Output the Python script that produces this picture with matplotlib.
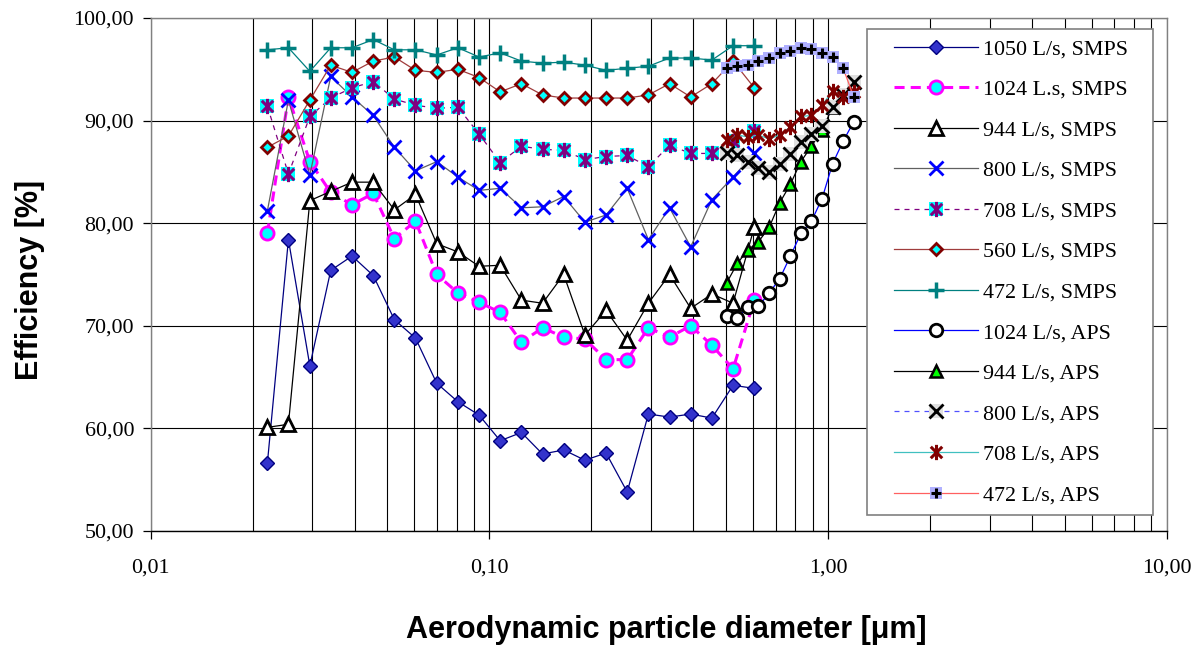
import matplotlib
matplotlib.use("Agg")
import matplotlib.pyplot as plt
from matplotlib.path import Path
from matplotlib.lines import Line2D
from matplotlib.legend_handler import HandlerLine2D
from matplotlib.ticker import LogLocator, FuncFormatter, NullFormatter, FixedLocator

# particle diameters [um]
d_smps = [0.0221, 0.0255, 0.0295, 0.0340, 0.0393, 0.0454, 0.0524, 0.0605,
          0.0699, 0.0807, 0.0932, 0.1076, 0.1243, 0.1435, 0.1657, 0.1914,
          0.2210, 0.2552, 0.2947, 0.3403, 0.3930, 0.4538, 0.5241, 0.6052]
d_aps = [0.502, 0.540, 0.580, 0.623, 0.670, 0.720, 0.774, 0.831, 0.893,
         0.960, 1.031, 1.108, 1.191]

# efficiency [%]
smps_1050 = [56.6, 78.4, 66.1, 75.4, 76.8, 74.9, 70.6, 68.8, 64.4, 62.6, 61.3, 58.8,
             59.6, 57.5, 57.9, 56.9, 57.6, 53.8, 61.4, 61.1, 61.4, 61.0, 64.2, 63.9]
smps_1024 = [79.0, 92.3, 86.0, 83.0, 81.8, 82.9, 78.5, 80.2, 75.0, 73.2, 72.3, 71.3,
             68.4, 69.8, 68.9, 68.7, 66.7, 66.7, 69.8, 68.9, 70.0, 68.1, 65.8, 72.5]
smps_944 = [60.1, 60.4, 82.2, 83.1, 84.0, 84.0, 81.3, 82.8, 78.0, 77.2, 75.8, 75.9,
            72.5, 72.2, 75.0, 69.1, 71.5, 68.6, 72.2, 75.0, 71.7, 73.1, 72.2, 79.6]
smps_800 = [81.2, 92.0, 84.7, 94.3, 92.3, 90.5, 87.4, 85.1, 86.0, 84.5, 83.2, 83.4,
            81.5, 81.6, 82.6, 80.1, 80.8, 83.4, 78.4, 81.5, 77.7, 82.3, 84.5, 86.8]
smps_708 = [91.4, 84.8, 90.4, 92.2, 93.2, 93.8, 92.1, 91.5, 91.2, 91.3, 88.7, 85.9,
            87.5, 87.2, 87.1, 86.2, 86.5, 86.6, 85.5, 87.6, 86.8, 86.8, 88.0, 89.0]
smps_560 = [87.4, 88.5, 92.0, 95.4, 94.7, 95.8, 96.2, 94.9, 94.7, 95.0, 94.2, 92.8,
            93.6, 92.5, 92.2, 92.2, 92.2, 92.2, 92.5, 93.6, 92.3, 93.6, 95.8, 93.2]
smps_472 = [96.9, 97.1, 94.8, 97.1, 97.1, 97.9, 96.9, 96.9, 96.4, 97.1, 96.2, 96.6,
            95.8, 95.6, 95.7, 95.4, 94.9, 95.1, 95.3, 96.1, 96.1, 95.9, 97.3, 97.3]

aps_1024 = [71.0, 70.8, 71.8, 71.9, 73.2, 74.6, 76.8, 79.0, 80.2, 82.4, 85.8, 88.0, 89.9]
aps_944 = [74.2, 76.1, 77.4, 78.2, 79.6, 82.0, 83.8, 86.0, 87.5, 89.1, 91.3]
aps_800 = [86.8, 86.6, 86.0, 85.4, 85.0, 85.8, 86.7, 87.9, 88.7, 89.5, 91.3, 92.5, 93.8]
aps_708 = [88.1, 88.6, 88.4, 88.6, 88.2, 88.6, 89.4, 90.4, 90.5, 91.5, 92.9, 92.3, 92.8]
aps_472 = [95.1, 95.3, 95.4, 95.8, 96.1, 96.6, 96.8, 97.1, 97.0, 96.6, 96.2, 95.1, 92.3]

labels = ["1050 L/s, SMPS", "1024 L.s, SMPS", "944 L/s, SMPS", "800 L/s, SMPS",
          "708 L/s, SMPS", "560 L/s, SMPS", "472 L/s, SMPS", "1024 L/s, APS",
          "944 L/s, APS", "800 L/s, APS", "708 L/s, APS", "472 L/s, APS"]

serif = ["Liberation Serif", "DejaVu Serif"]
sans = ["Liberation Sans", "DejaVu Sans"]

# excel-like asterisk (vertical bar + x)
ast = Path([(0, -1), (0, 1), (-0.75, -0.75), (0.75, 0.75), (-0.75, 0.75), (0.75, -0.75)],
           [Path.MOVETO, Path.LINETO] * 3)


class ShiftedLine(HandlerLine2D):
    # legend line starts a bit further from the frame, like excel
    shift = 12

    def create_artists(self, legend, orig_handle, xdescent, ydescent, width, height,
                       fontsize, trans):
        return super().create_artists(legend, orig_handle, xdescent - self.shift,
                                      ydescent, width - self.shift, height, fontsize, trans)


fig = plt.figure(figsize=(12.02, 6.5), dpi=100)
ax = fig.add_axes([0.1254, 0.1831, 0.8453, 0.7892])

lw = 0.9
h = []
l1, = ax.plot(d_smps, smps_1050, color="#000080", lw=lw, marker="D", ms=7.5,
              mfc="#3333cc", mec="#000080", mew=1.0)
h.append(l1)
l2, = ax.plot(d_smps, smps_1024, color="#ff00ff", lw=2.2, dashes=(3.3, 2.0), marker="o",
              ms=9.5, mfc="#00ffff", mec="#ff00ff", mew=2.0)
h.append(l2)
l3, = ax.plot(d_smps, smps_944, color="black", lw=lw, marker="^", ms=10.5,
              mfc="white", mec="black", mew=2.0)
h.append(l3)
l4, = ax.plot(d_smps, smps_800, color="#606060", lw=lw, marker="x", ms=10.5,
              mec="#0000ff", mew=2.0)
h.append(l4)
l5a, = ax.plot(d_smps, smps_708, color="#800080", lw=lw, dashes=(4, 4), marker="s",
               ms=10.5, mfc="#00ffff", mec="#00ffff", mew=0)
l5b, = ax.plot(d_smps, smps_708, ls="none", marker=ast, ms=11, mec="#800080",
               mfc="none", mew=2.2)
h.append((l5a, l5b))
l6, = ax.plot(d_smps, smps_560, color="#a03c3c", lw=lw, marker="D", ms=6.5,
              mfc="#00ffff", mec="#800000", mew=2.0)
h.append(l6)
l7, = ax.plot(d_smps, smps_472, color="#008080", lw=lw, marker="+", ms=11.5,
              mec="#008080", mew=2.5)
h.append(l7)

l8, = ax.plot(d_aps, aps_1024, color="#0000ff", lw=lw, marker="o", ms=9,
              mfc="white", mec="black", mew=2.0)
h.append(l8)
l9, = ax.plot(d_aps[:len(aps_944)], aps_944, color="black", lw=lw, marker="^", ms=9,
              mfc="#00ff00", mec="black", mew=1.8)
h.append(l9)
l10a, = ax.plot(d_aps, aps_800, color="#5050ff", lw=lw, dashes=(4, 4), marker="s",
                ms=10, mfc="#e0e0e0", mec="#e0e0e0", mew=0)
l10b, = ax.plot(d_aps, aps_800, ls="none", marker="x", ms=10, mec="black", mew=2.0)
h.append((l10a, l10b))
l11, = ax.plot(d_aps, aps_708, color="#40c0c0", lw=lw, marker=ast, ms=11,
               mec="#800000", mfc="none", mew=2.2)
h.append(l11)
l12a, = ax.plot(d_aps, aps_472, color="#ff6060", lw=lw, marker="s", ms=8,
                mfc="#b0b0ff", mec="#b0b0ff", mew=0)
l12b, = ax.plot(d_aps, aps_472, ls="none", marker="+", ms=7.5, mec="black", mew=2.2)
h.append((l12a, l12b))

# axes
ax.set_xscale("log")
ax.set_xlim(0.01, 10)
ax.set_ylim(50, 100)
ax.xaxis.set_major_locator(FixedLocator([0.01, 0.1, 1, 10]))
ax.xaxis.set_minor_locator(LogLocator(base=10, subs=range(2, 10)))
ax.xaxis.set_minor_formatter(NullFormatter())
ax.xaxis.set_major_formatter(FuncFormatter(lambda v, p: f"{v:.2f}".replace(".", ",")))
ax.set_yticks([50, 60, 70, 80, 90, 100])
ax.yaxis.set_major_formatter(FuncFormatter(lambda v, p: f"{v:.2f}".replace(".", ",")))

ax.grid(True, which="both", axis="x", color="black", lw=0.8)
ax.grid(True, which="major", axis="y", color="black", lw=0.8)
ax.set_axisbelow(True)

ax.tick_params(which="major", direction="out", length=6, width=0.9, color="black",
               labelsize=15.8)
ax.tick_params(axis="x", which="major", pad=14)
ax.tick_params(axis="y", which="major", pad=6)
ax.tick_params(which="minor", length=0)
for t in ax.get_xticklabels() + ax.get_yticklabels():
    t.set_fontfamily(serif)

for s in ["top", "right", "left"]:
    ax.spines[s].set_color("#808080")
ax.spines["bottom"].set_color("black")
for s in ax.spines.values():
    s.set_linewidth(1.0)

ax.set_xlabel("Aerodynamic particle diameter [μm]", fontsize=22, fontweight="bold",
              family=sans)
ax.set_ylabel("Efficiency [%]", fontsize=22, fontweight="bold", family=sans)
ax.xaxis.set_label_coords(0.507, -0.163)
ax.yaxis.set_label_coords(-0.104, 0.489)

leg = ax.legend(h, labels, loc="upper left", bbox_to_anchor=(0.705, 0.0, 0.2815, 0.9786),
                mode="expand", handler_map={Line2D: ShiftedLine()},
                prop={"family": serif, "size": 15.8}, frameon=True, fancybox=False,
                edgecolor="#808080", framealpha=1, handlelength=4.6, handletextpad=0.25,
                labelspacing=0.92, borderpad=0.45, borderaxespad=0)
leg.get_frame().set_linewidth(1.2)

fig.savefig("out.png", dpi=100)
